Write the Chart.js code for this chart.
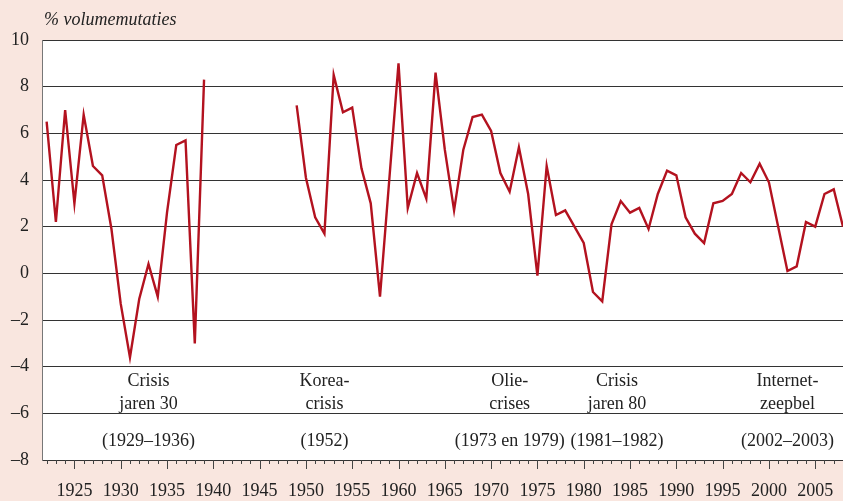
<!DOCTYPE html>
<html>
<head>
<meta charset="utf-8">
<script src="https://cdn.jsdelivr.net/npm/chart.js@4/dist/chart.umd.min.js"></script>
<style>
html,body{margin:0;padding:0;background:#f9e6df;}
canvas{display:block;}
</style>
</head>
<body>
<canvas id="c" width="843" height="501"></canvas>
<script>
const years = [1922,1923,1924,1925,1926,1927,1928,1929,1930,1931,1932,1933,1934,1935,1936,1937,1938,1939,
  1940,1941,1942,1943,1944,1945,1946,1947,1948,
  1949,1950,1951,1952,1953,1954,1955,1956,1957,1958,1959,1960,1961,1962,1963,1964,1965,1966,1967,1968,1969,
  1970,1971,1972,1973,1974,1975,1976,1977,1978,1979,1980,1981,1982,1983,1984,1985,1986,1987,1988,1989,
  1990,1991,1992,1993,1994,1995,1996,1997,1998,1999,2000,2001,2002,2003,2004,2005,2006,2007,2008];
const volume = [6.5,2.2,7.0,3.0,6.8,4.6,4.2,1.9,-1.3,-3.6,-1.1,0.4,-1.0,2.6,5.5,5.7,-3.0,8.3,
  null,null,null,null,null,null,null,null,null,
  7.2,4.1,2.4,1.7,8.5,6.9,7.1,4.5,3.0,-1.0,4.0,9.0,2.8,4.3,3.2,8.6,5.3,2.7,5.3,6.7,6.8,
  6.1,4.3,3.5,5.4,3.4,-0.1,4.6,2.5,2.7,2.0,1.3,-0.8,-1.2,2.1,3.1,2.6,2.8,1.9,3.4,4.4,
  4.2,2.4,1.7,1.3,3.0,3.1,3.4,4.3,3.9,4.7,3.9,2.0,0.1,0.3,2.2,2.0,3.4,3.6,2.0];
const yTicks = [-8,-6,-4,-2,0,2,4,6,8,10];
const xLabelYears = [1925,1930,1935,1940,1945,1950,1955,1960,1965,1970,1975,1980,1985,1990,1995,2000,2005];
const axisTitle = '% volumemutaties';
const annoYears = [1933, 1952, 1972, 1983.6, 2002];
const annoLine1 = ['Crisis', 'Korea-', 'Olie-', 'Crisis', 'Internet-'];
const annoLine2 = ['jaren 30', 'crisis', 'crises', 'jaren 80', 'zeepbel'];
const annoPeriod = ['(1929–1936)', '(1952)', '(1973 en 1979)', '(1981–1982)', '(2002–2003)'];

const FONT = '"Liberation Serif", "DejaVu Serif", serif';

const decor = {
  id: 'decor',
  beforeDraw(chart) {
    const {ctx, chartArea: a} = chart;
    ctx.save();
    ctx.fillStyle = '#f9e6df';
    ctx.fillRect(0, 0, chart.width, chart.height);
    ctx.fillStyle = '#ffffff';
    ctx.fillRect(a.left, a.top, a.right - a.left, a.bottom - a.top);
    ctx.restore();
  },
  afterDraw(chart) {
    const {ctx, chartArea: a, scales} = chart;
    const xs = scales.x, ys = scales.y;
    ctx.save();
    ctx.strokeStyle = '#444';
    ctx.lineWidth = 1;
    years.forEach(v => {
      const px = Math.round(xs.getPixelForValue(v)) + 0.5;
      const len = (v % 5 === 0) ? 9 : 4;
      ctx.beginPath();
      ctx.moveTo(px, a.bottom);
      ctx.lineTo(px, a.bottom + len);
      ctx.stroke();
    });
    ctx.fillStyle = '#222';
    ctx.font = 'italic 18px ' + FONT;
    ctx.textAlign = 'left';
    ctx.textBaseline = 'alphabetic';
    ctx.fillText(axisTitle, a.left + 2, 25);
    ctx.font = '18px ' + FONT;
    ctx.textAlign = 'center';
    annoYears.forEach((yr, i) => {
      const px = xs.getPixelForValue(yr);
      ctx.fillText(annoLine1[i], px, ys.getPixelForValue(-4.84));
      ctx.fillText(annoLine2[i], px, ys.getPixelForValue(-5.83));
      ctx.fillText(annoPeriod[i], px, ys.getPixelForValue(-7.42));
    });
    ctx.restore();
  }
};

new Chart(document.getElementById('c'), {
  type: 'line',
  data: {
    datasets: [{
      data: years.map((y, i) => ({x: y, y: volume[i]})),
      borderColor: '#b3121f',
      borderWidth: 2.4,
      pointRadius: 0,
      tension: 0,
      spanGaps: false,
      fill: false
    }]
  },
  options: {
    responsive: false,
    animation: false,
    devicePixelRatio: 1,
    layout: {padding: {top: 40, left: 0, right: 0, bottom: 0}},
    plugins: {legend: {display: false}, tooltip: {enabled: false}, title: {display: false}},
    scales: {
      x: {
        type: 'linear',
        min: 1921.5,
        max: 2008,
        afterBuildTicks: s => { s.ticks = xLabelYears.map(v => ({value: v})); },
        afterFit: s => { s.height = 41; s.paddingLeft = 0; s.paddingRight = 0; },
        grid: {display: false, drawTicks: false},
        border: {display: true, color: '#333', width: 1},
        ticks: {
          autoSkip: false,
          maxRotation: 0,
          padding: 20,
          color: '#222',
          font: {family: FONT, size: 18},
          callback: v => String(v)
        }
      },
      y: {
        min: -8,
        max: 10,
        afterBuildTicks: s => { s.ticks = yTicks.map(v => ({value: v})); },
        afterFit: s => { s.width = 42; s.paddingTop = 0; s.paddingBottom = 0; },
        grid: {color: '#333', lineWidth: 1, drawTicks: false},
        border: {display: true, color: '#777', width: 1},
        ticks: {
          padding: 13,
          color: '#222',
          font: {family: FONT, size: 18},
          callback: v => String(v).replace('-', '–')
        }
      }
    }
  },
  plugins: [decor]
});
</script>
</body>
</html>
